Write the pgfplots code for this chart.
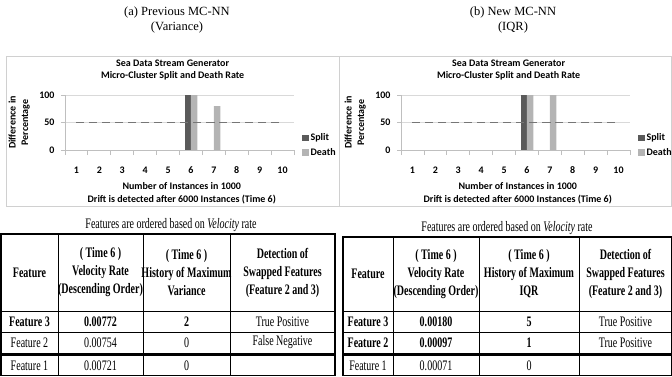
\documentclass[border=0pt]{standalone}
\usepackage{fontspec}
\setmainfont{Liberation Serif}
\newfontfamily\chartfont{Carlito}
\newfontfamily\tabfont[FakeStretch=0.69]{Liberation Serif}
\usepackage{pgfplots}
\pgfplotsset{compat=1.18}

\definecolor{splitc}{HTML}{5A5A5A}
\definecolor{deathc}{HTML}{B4B4B4}
\definecolor{gridc}{HTML}{D9D9D9}
\definecolor{axc}{HTML}{BFBFBF}
\definecolor{dashc}{HTML}{767676}
\definecolor{boxc}{HTML}{D0D0D0}

\newcommand{\cf}{\chartfont\bfseries\fontsize{10}{12.5}\selectfont}
\newcommand{\tf}{\tabfont\fontsize{14.5}{18}\selectfont}

\pgfplotsset{
  mcchart/.style={
    scale only axis, width=229pt, height=55pt,
    xmin=0.5, xmax=10.5, ymin=0, ymax=100,
    axis x line=bottom, axis y line=left,
    axis line style={axc, line width=0.8pt, -},
    xtick={1,...,10}, ytick={0,50,100},
    minor xtick={0.5,1.5,...,10.5},
    xtick align=outside, ytick align=outside,
    major tick length=4pt, minor tick length=5pt,
    tick style={axc, line width=0.8pt},
    major x tick style={draw=none},
    ymajorgrids, grid style={gridc, line width=0.8pt},
    tick label style={font=\cf},
    /pgf/number format/assume math mode=true,
    xticklabel style={yshift=-9pt},
    yticklabel style={xshift=-3pt},
    title={Sea Data Stream Generator\\Micro-Cluster Split and Death Rate},
    title style={font=\cf, align=center, at={(rel axis cs:0.47,1)}, anchor=south, yshift=5pt},
    xlabel={Number of Instances in 1000\\Drift is detected after 6000 Instances (Time 6)},
    xlabel style={font=\cf, align=center, at={(rel axis cs:0.51,0)}, anchor=north, yshift=-29pt},
    ylabel={Difference in\\Percentage},
    ylabel style={font=\cf, align=center, at={(rel axis cs:-0.2,0.5)}, anchor=center},
    legend style={at={(rel axis cs:1.035,0.09)}, anchor=west, draw=none, fill=none,
      font=\cf, row sep=2pt, inner sep=0pt},
    legend cell align=left,
    legend image code/.code={\fill[##1] (0pt,-3.2pt) rectangle (6.4pt,3.2pt);},
  },
  splitbar/.style={ybar, bar width=6.4pt, bar shift=-3.2pt, fill=splitc, draw=none},
  deathbar/.style={ybar, bar width=6.4pt, bar shift=3.2pt, fill=deathc, draw=none},
  driftline/.style={dashc, dash pattern=on 8pt off 5pt, line width=1.5pt, forget plot},
}

\begin{document}
\begin{tikzpicture}[x=1pt,y=1pt]
\path[use as bounding box] (0,0) rectangle (672,376);

% sub-figure captions
\node[font=\fontsize{12.5}{15}\selectfont, align=center] at (177,356) {(a) Previous MC-NN\\(Variance)};
\node[font=\fontsize{12.5}{15}\selectfont, align=center] at (513,356) {(b) New MC-NN\\(IQR)};

% chart frames
\draw[boxc, line width=0.8pt] (6,320) rectangle (339,170);
\draw[boxc, line width=0.8pt] (339,320) rectangle (671.5,170);

% (a) variance
\begin{axis}[mcchart, at={(65pt,226pt)}, anchor=south west]
  \addplot[splitbar] coordinates {(6,100)};
  \addplot[deathbar] coordinates {(6,100) (7,80)};
  \addplot[driftline] coordinates {(1,50) (2,50) (3,50) (4,50) (5,50) (6,50) (7,50) (8,50) (9,50) (10,50)};
  \legend{Split,Death}
\end{axis}

% (b) IQR
\begin{axis}[mcchart, at={(401pt,226pt)}, anchor=south west]
  \addplot[splitbar] coordinates {(6,100)};
  \addplot[deathbar] coordinates {(6,100) (7,100)};
  \addplot[driftline] coordinates {(1,50) (2,50) (3,50) (4,50) (5,50) (6,50) (7,50) (8,50) (9,50) (10,50)};
  \legend{Split,Death}
\end{axis}

% ---- table (a)
\node[font=\tf] at (171,151) {Features are ordered based on \textit{Velocity} rate};
\draw[line width=1.2pt] (1,142) rectangle (335,0.5);
\foreach \x in {58,143,230} \draw[line width=0.7pt] (\x,142) -- (\x,0.5);
\draw[line width=0.8pt] (1,65) -- (335,65);
\draw[line width=0.7pt] (1,44) -- (335,44);
\draw[line width=2.6pt] (1,21.5) -- (335,21.5);
\node[font=\tf\bfseries] at (29.5,103.5) {Feature};
\node[font=\tf\bfseries, align=center] at (100.5,103.5) {( Time 6 )\\Velocity Rate\\(Descending Order)};
\node[font=\tf\bfseries, align=center] at (186.5,103.5) {( Time 6 )\\History of Maximum\\Variance};
\node[font=\tf\bfseries, align=center] at (282.5,103.5) {Detection of\\Swapped Features\\(Feature 2 and 3)};
\node[font=\tf\bfseries] at (29.5,54.5) {Feature 3};
\node[font=\tf\bfseries] at (100.5,54.5) {0.00772};
\node[font=\tf\bfseries] at (186.5,54.5) {2};
\node[font=\tf] at (282.5,54.5) {True Positive};
\node[font=\tf] at (29.5,33.5) {Feature 2};
\node[font=\tf] at (100.5,33.5) {0.00754};
\node[font=\tf] at (186.5,33.5) {0};
\node[font=\tf] at (282.5,33.5) {False Negative};
\node[font=\tf] at (29.5,10.5) {Feature 1};
\node[font=\tf] at (100.5,10.5) {0.00721};
\node[font=\tf] at (186.5,10.5) {0};

% ---- table (b)
\node[font=\tf] at (507,148) {Features are ordered based on \textit{Velocity} rate};
\draw[line width=1.2pt] (343,139) rectangle (671.4,0.5);
\foreach \x in {393,479,579} \draw[line width=0.7pt] (\x,139) -- (\x,0.5);
\draw[line width=0.8pt] (343,65) -- (671.4,65);
\draw[line width=0.7pt] (343,44) -- (671.4,44);
\draw[line width=2.6pt] (343,21.5) -- (671.4,21.5);
\node[font=\tf\bfseries] at (368,102) {Feature};
\node[font=\tf\bfseries, align=center] at (436,102) {( Time 6 )\\Velocity Rate\\(Descending Order)};
\node[font=\tf\bfseries, align=center] at (529,102) {( Time 6 )\\History of Maximum\\IQR};
\node[font=\tf\bfseries, align=center] at (625.5,102) {Detection of\\Swapped Features\\(Feature 2 and 3)};
\node[font=\tf\bfseries] at (368,54.5) {Feature 3};
\node[font=\tf\bfseries] at (436,54.5) {0.00180};
\node[font=\tf\bfseries] at (529,54.5) {5};
\node[font=\tf] at (625.5,54.5) {True Positive};
\node[font=\tf\bfseries] at (368,33.5) {Feature 2};
\node[font=\tf\bfseries] at (436,33.5) {0.00097};
\node[font=\tf\bfseries] at (529,33.5) {1};
\node[font=\tf] at (625.5,33.5) {True Positive};
\node[font=\tf] at (368,10.5) {Feature 1};
\node[font=\tf] at (436,10.5) {0.00071};
\node[font=\tf] at (529,10.5) {0};
\end{tikzpicture}
\end{document}
